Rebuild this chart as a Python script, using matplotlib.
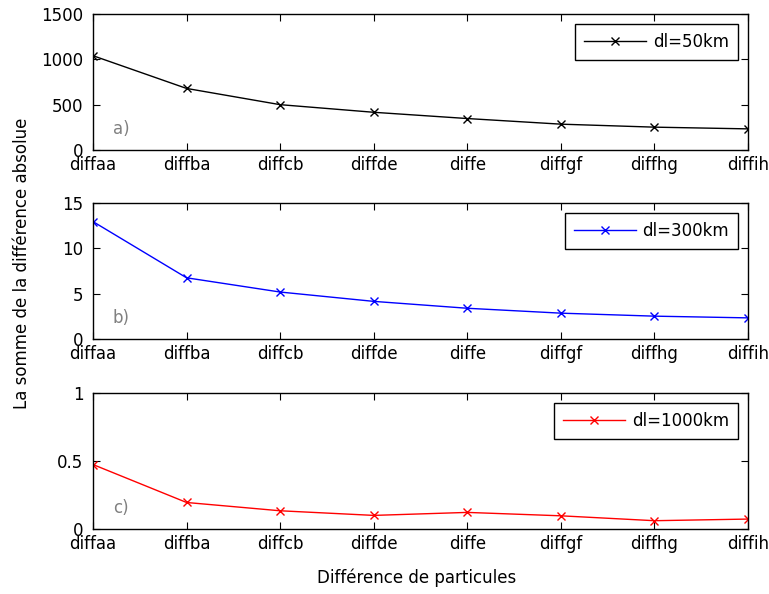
import matplotlib
matplotlib.use("Agg")
import matplotlib.pyplot as plt

plt.rcParams["font.family"] = ["DejaVu Sans"]

categories = ["diffaa", "diffba", "diffcb", "diffde", "diffe", "diffgf", "diffhg", "diffih"]

dl50 = [1040, 679, 500, 416, 347, 285, 252, 233]
dl300 = [12.95, 6.75, 5.18, 4.15, 3.39, 2.85, 2.52, 2.33]
dl1000 = [0.474, 0.195, 0.134, 0.10, 0.122, 0.097, 0.061, 0.073]

series = [
    (dl50, "black", "dl=50km", (0, 1500), [0, 500, 1000, 1500], ["0", "500", "1000", "1500"], "a)"),
    (dl300, "blue", "dl=300km", (0, 15), [0, 5, 10, 15], ["0", "5", "10", "15"], "b)"),
    (dl1000, "red", "dl=1000km", (0, 1), [0, 0.5, 1], ["0", "0.5", "1"], "c)"),
]

fig = plt.figure(figsize=(7.69, 5.94), dpi=100)
W, H = 769, 594
tops = [14, 203, 393]
left, right, height = 93, 748, 136

x = list(range(len(categories)))
for (vals, col, lab, ylim, yt, ytl, tag), top in zip(series, tops):
    ax = fig.add_axes([left / W, 1 - (top + height) / H, (right - left) / W, height / H])
    ax.plot(x, vals, color=col, marker="x", markersize=6, linewidth=1, label=lab)
    ax.set_xlim(0, len(categories) - 1)
    ax.set_ylim(*ylim)
    ax.set_yticks(yt)
    ax.set_yticklabels(ytl)
    ax.set_xticks(x)
    ax.set_xticklabels(categories)
    ax.tick_params(direction="in", top=True, right=True, labelsize=12, length=5)
    ax.tick_params(axis="x", pad=4)
    ax.tick_params(axis="y", pad=7)
    for s in ax.spines.values():
        s.set_linewidth(1)
    ax.text(0.03, 0.12, tag, transform=ax.transAxes, color="gray", fontsize=12)
    leg = ax.legend(loc="upper right", fontsize=12, fancybox=False, framealpha=1,
                    edgecolor="black", handlelength=3.7, handletextpad=0.4,
                    borderpad=0.55, borderaxespad=0.6)
    leg.get_frame().set_linewidth(1)

fig.text(22 / W, 1 - 263 / H, "La somme de la différence absolue", rotation=90,
         ha="center", va="center", fontsize=12)
fig.text(417 / W, 1 - 578 / H, "Différence de particules",
         ha="center", va="center", fontsize=12)

fig.savefig("out.png", dpi=100)
